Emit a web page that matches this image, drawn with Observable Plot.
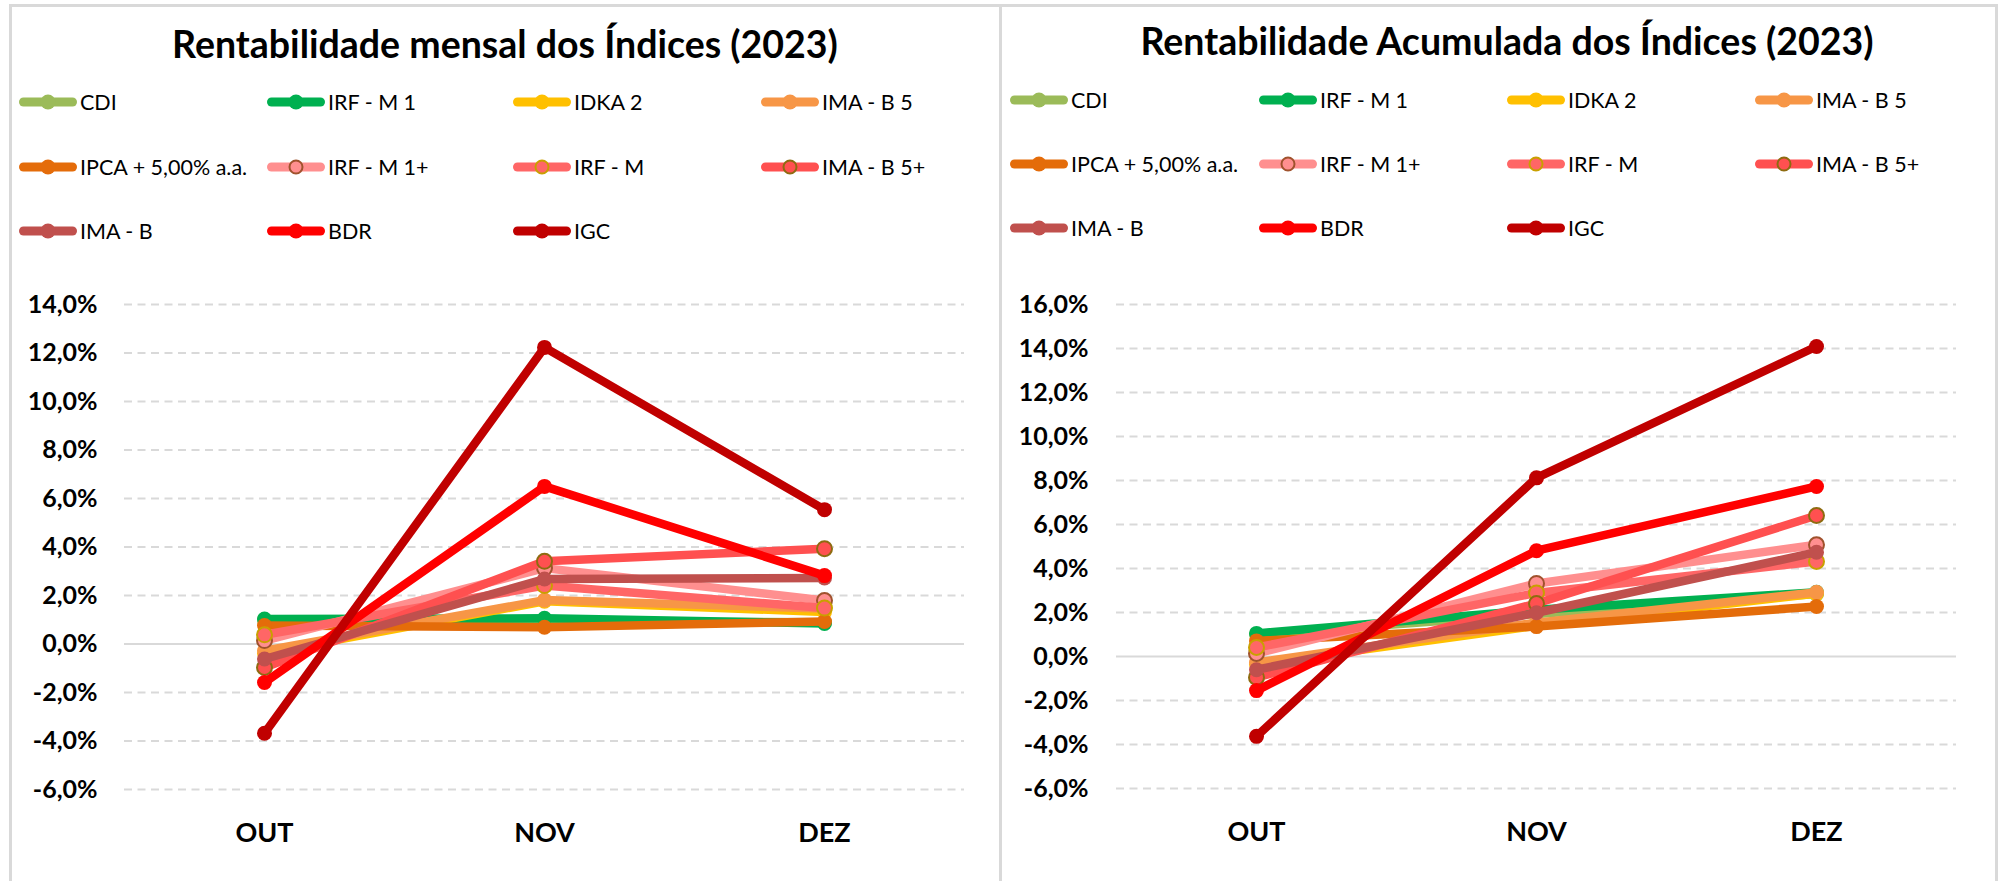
<!DOCTYPE html>
<html>
<head>
<meta charset="utf-8">
<script src="https://cdn.jsdelivr.net/npm/d3@7"></script>
<script src="https://cdn.jsdelivr.net/npm/@observablehq/plot@0.6"></script>
<style>
  html, body { margin: 0; padding: 0; background: #fff; }
  body { width: 2002px; height: 881px; position: relative; overflow: hidden; font-family: Lato, "Open Sans", sans-serif; }
  .border { position: absolute; background: #D9D9D9; }
  .title { position: absolute; font-weight: bold; font-size: 37.5px; color: #000; transform: translate(-50%, -50%); white-space: nowrap; }
  .leg { position: absolute; display: flex; align-items: center; height: 24px; font-size: 21.5px; color: #000; white-space: nowrap; }
  .leg svg { display: block; margin-right: 3px; }
  .chart { position: absolute; }
</style>
</head>
<body>
<div class="border" style="left:9px; top:4px; width:1989px; height:3px;"></div>
<div class="border" style="left:9px; top:4px; width:3px; height:877px;"></div>
<div class="border" style="left:999px; top:4px; width:3px; height:877px;"></div>
<div class="border" style="left:1995px; top:4px; width:3px; height:877px;"></div>
<script>
const months = ["OUT", "NOV", "DEZ"];
const series = ["CDI", "IRF - M 1", "IDKA 2", "IMA - B 5", "IPCA + 5,00% a.a.", "IRF - M 1+", "IRF - M", "IMA - B 5+", "IMA - B", "BDR", "IGC"];
const colors = ["#9BBB59", "#00B050", "#FFC000", "#F79646", "#E46C0A", "#FF8F8F", "#FF6666", "#FF5050", "#C0504D", "#FF0000", "#C00000"];
const markerOutline = [null, null, null, null, null, "#A0522D", "#C9A000", "#8E6B10", null, null, null];

// Rentabilidade mensal (%)
const mensal = {
  "CDI": [1.00, 0.92, 0.90],
  "IRF - M 1": [1.03, 1.06, 0.85],
  "IDKA 2": [-0.38, 1.76, 1.32],
  "IMA - B 5": [-0.28, 1.81, 1.46],
  "IPCA + 5,00% a.a.": [0.76, 0.69, 0.93],
  "IRF - M 1+": [0.14, 3.13, 1.79],
  "IRF - M": [0.38, 2.41, 1.48],
  "IMA - B 5+": [-0.97, 3.41, 3.93],
  "IMA - B": [-0.62, 2.68, 2.72],
  "BDR": [-1.59, 6.50, 2.82],
  "IGC": [-3.68, 12.23, 5.54]
};
// Rentabilidade acumulada (%)
const acumulada = {
  "CDI": [1.00, 1.93, 2.84],
  "IRF - M 1": [1.05, 2.12, 2.92],
  "IDKA 2": [-0.36, 1.40, 2.86],
  "IMA - B 5": [-0.27, 1.54, 2.92],
  "IPCA + 5,00% a.a.": [0.71, 1.36, 2.27],
  "IRF - M 1+": [0.14, 3.32, 5.08],
  "IRF - M": [0.41, 2.89, 4.32],
  "IMA - B 5+": [-0.95, 2.41, 6.41],
  "IMA - B": [-0.60, 1.99, 4.74],
  "BDR": [-1.55, 4.81, 7.73],
  "IGC": [-3.63, 8.12, 14.09]
};
const ticksMensal = [-6, -4, -2, 0, 2, 4, 6, 8, 10, 12, 14];
const ticksAcum = [-6, -4, -2, 0, 2, 4, 6, 8, 10, 12, 14, 16];
const titles = ["Rentabilidade mensal dos Índices (2023)", "Rentabilidade Acumulada dos Índices (2023)"];

const fmt = d => d.toFixed(1).replace(".", ",") + "%";

function rowsOf(obj) {
  return series.flatMap(s => months.map((m, i) => ({series: s, month: m, value: obj[s][i]})));
}

function makeChart(obj, ticks, opts) {
  const rows = rowsOf(obj);
  const marks = [
    Plot.ruleY(ticks.filter(d => d !== 0), {stroke: "#D9D9D9", strokeWidth: 2, strokeDasharray: "8,5.5"}),
    Plot.ruleY([0], {stroke: "#D9D9D9", strokeWidth: 2}),
    Plot.axisY({ticks, tickSize: 0, tickPadding: opts.tickPadY, tickFormat: fmt, fontSize: 25, fontWeight: "bold", fill: "#000", label: null}),
    Plot.axisX({tickSize: 0, tickPadding: 33, fontSize: 27, fontWeight: "bold", fill: "#000", label: null})
  ];
  series.forEach((s, i) => {
    const data = rows.filter(r => r.series === s);
    marks.push(Plot.line(data, {x: "month", y: "value", stroke: "series", strokeWidth: 8.5, strokeLinecap: "round", strokeLinejoin: "round"}));
    marks.push(Plot.dot(data, {x: "month", y: "value", r: 7.5, fill: "series", stroke: markerOutline[i] || "none", strokeWidth: markerOutline[i] ? 2 : 0}));
  });
  return Plot.plot({
    width: opts.width,
    height: 601,
    marginLeft: opts.ml,
    marginRight: opts.mr,
    marginTop: 24,
    marginBottom: opts.mb,
    x: {type: "point", domain: months, padding: 0.5, label: null, axis: null},
    y: {domain: opts.domain, label: null, axis: null},
    color: {domain: series, range: colors},
    style: {fontFamily: "Lato, 'Open Sans', sans-serif", background: "transparent", overflow: "visible"},
    marks
  });
}

function addChart(svg, left, top) {
  svg.classList.add("chart");
  svg.style.left = left + "px";
  svg.style.top = top + "px";
  document.body.appendChild(svg);
}

function addTitle(text, cx, cy) {
  const d = document.createElement("div");
  d.className = "title";
  d.textContent = text;
  d.style.left = cx + "px";
  d.style.top = cy + "px";
  document.body.appendChild(d);
}

function addLegend(cols, rowsY) {
  series.forEach((s, i) => {
    const x = cols[i % 4], y = rowsY[Math.floor(i / 4)];
    const d = document.createElement("div");
    d.className = "leg";
    d.style.left = x + "px";
    d.style.top = (y - 12) + "px";
    const ns = "http://www.w3.org/2000/svg";
    const sv = document.createElementNS(ns, "svg");
    sv.setAttribute("width", 58); sv.setAttribute("height", 24);
    const ln = document.createElementNS(ns, "line");
    ln.setAttribute("x1", 4.5); ln.setAttribute("x2", 53.5); ln.setAttribute("y1", 12); ln.setAttribute("y2", 12);
    ln.setAttribute("stroke", colors[i]); ln.setAttribute("stroke-width", 9); ln.setAttribute("stroke-linecap", "round");
    sv.appendChild(ln);
    const c = document.createElementNS(ns, "circle");
    c.setAttribute("cx", 29); c.setAttribute("cy", 12); c.setAttribute("r", 7.5);
    c.setAttribute("fill", colors[i]);
    if (markerOutline[i]) { c.setAttribute("stroke", markerOutline[i]); c.setAttribute("stroke-width", 2); c.setAttribute("r", 6.5); }
    sv.appendChild(c);
    d.appendChild(sv);
    const t = document.createElement("span");
    t.textContent = s;
    d.appendChild(t);
    document.body.appendChild(d);
  });
}

addTitle(titles[0], 505, 43);
addTitle(titles[1], 1507, 40);
addLegend([19, 267, 513, 761], [102, 167, 231]);
addLegend([1010, 1259, 1507, 1755], [100, 164, 228]);

addChart(makeChart(mensal, ticksMensal, {width: 1000, ml: 124, mr: 36, mb: 92, domain: [-6, 14], tickPadY: 27}), 0, 280);
addChart(makeChart(acumulada, ticksAcum, {width: 1002, ml: 116, mr: 46, mb: 93, domain: [-6, 16], tickPadY: 28}), 1000, 280);
</script>
</body>
</html>
